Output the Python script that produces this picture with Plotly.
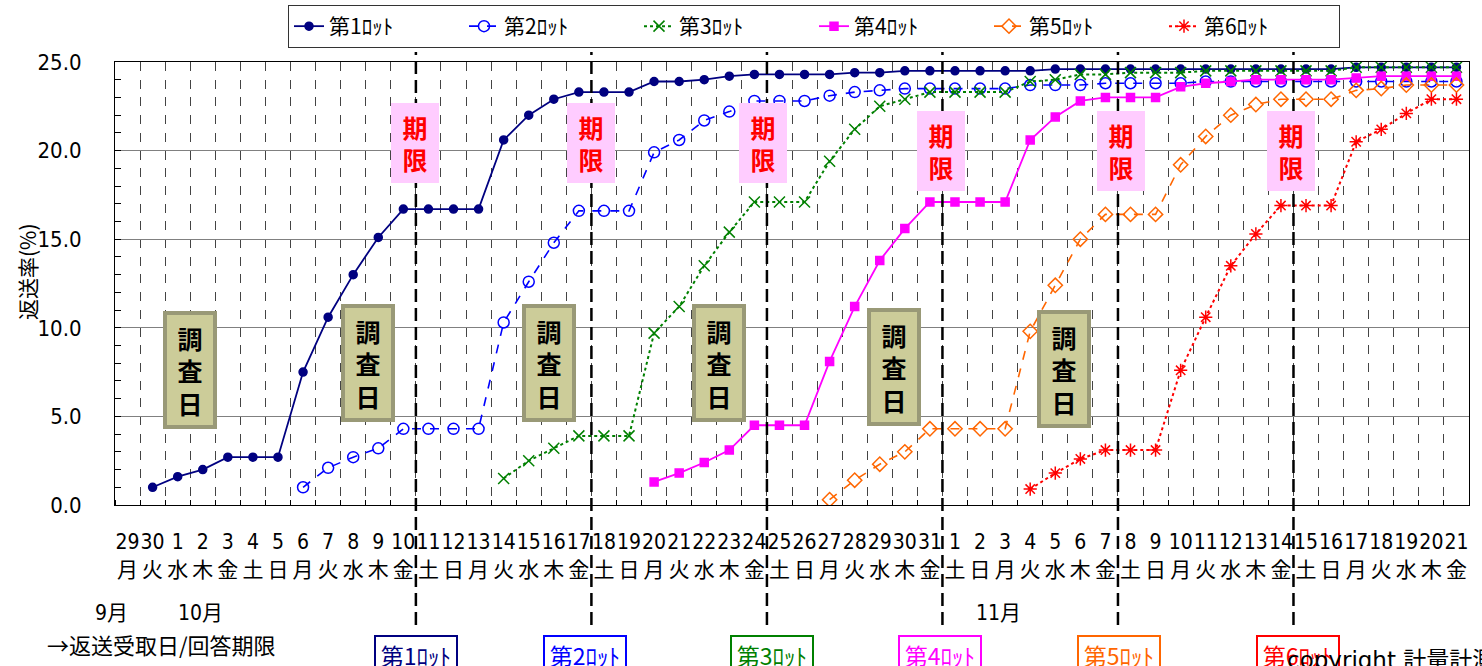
import plotly.graph_objects as go

# ---------------- data ----------------
days = ["29", "30",
        "1", "2", "3", "4", "5", "6", "7", "8", "9", "10", "11", "12", "13", "14", "15", "16",
        "17", "18", "19", "20", "21", "22", "23", "24", "25", "26", "27", "28", "29", "30", "31",
        "1", "2", "3", "4", "5", "6", "7", "8", "9", "10", "11", "12", "13", "14", "15", "16",
        "17", "18", "19", "20", "21"]
weekdays = ["月", "火",
            "水", "木", "金", "土", "日", "月", "火", "水", "木", "金", "土", "日", "月", "火", "水", "木",
            "金", "土", "日", "月", "火", "水", "木", "金", "土", "日", "月", "火", "水", "木", "金",
            "土", "日", "月", "火", "水", "木", "金", "土", "日", "月", "火", "水", "木", "金", "土", "日",
            "月", "火", "水", "木", "金"]

N = None
lot1 = [N, 1.0, 1.6, 2.0, 2.7, 2.7, 2.7, 7.5, 10.6, 13.0, 15.1, 16.7, 16.7, 16.7, 16.7, 20.6, 22.0, 22.9,
        23.3, 23.3, 23.3, 23.9, 23.9, 24.0, 24.2, 24.3, 24.3, 24.3, 24.3, 24.4, 24.4, 24.5, 24.5,
        24.5, 24.5, 24.5, 24.5, 24.6, 24.6, 24.6, 24.6, 24.6, 24.6, 24.6, 24.6, 24.6, 24.6, 24.6, 24.6,
        24.7, 24.7, 24.7, 24.7, 24.7]
lot2 = [N, N, N, N, N, N, N, 1.0, 2.1, 2.7, 3.2, 4.3, 4.3, 4.3, 4.3, 10.3, 12.6, 14.8,
        16.6, 16.6, 16.6, 19.9, 20.6, 21.7, 22.2, 22.8, 22.8, 22.8, 23.1, 23.3, 23.4, 23.5, 23.5,
        23.5, 23.5, 23.5, 23.7, 23.7, 23.7, 23.8, 23.8, 23.8, 23.8, 23.9, 23.9, 23.9, 23.9, 23.9, 23.9,
        23.9, 23.9, 23.9, 23.9, 23.9]
lot3 = [N, N, N, N, N, N, N, N, N, N, N, N, N, N, N, 1.5, 2.5, 3.2,
        3.9, 3.9, 3.9, 9.7, 11.2, 13.5, 15.4, 17.1, 17.1, 17.1, 19.4, 21.2, 22.5, 22.9, 23.3,
        23.3, 23.3, 23.3, 23.9, 24.0, 24.3, 24.3, 24.4, 24.4, 24.4, 24.5, 24.5, 24.5, 24.5, 24.5, 24.5,
        24.7, 24.7, 24.7, 24.7, 24.7]
lot4 = [N, N, N, N, N, N, N, N, N, N, N, N, N, N, N, N, N, N,
        N, N, N, 1.3, 1.8, 2.4, 3.1, 4.5, 4.5, 4.5, 8.1, 11.2, 13.8, 15.6, 17.1,
        17.1, 17.1, 17.1, 20.6, 21.9, 22.8, 23.0, 23.0, 23.0, 23.6, 23.8, 23.9, 24.0, 24.0, 24.0, 24.0,
        24.1, 24.2, 24.2, 24.2, 24.2]
lot5 = [N, N, N, N, N, N, N, N, N, N, N, N, N, N, N, N, N, N,
        N, N, N, N, N, N, N, N, N, N, 0.3, 1.4, 2.3, 3.0, 4.3,
        4.3, 4.3, 4.3, 9.8, 12.4, 15.0, 16.4, 16.4, 16.4, 19.2, 20.8, 22.0, 22.6, 22.9, 22.9, 22.9,
        23.4, 23.5, 23.7, 23.7, 23.7]
lot6 = [N, N, N, N, N, N, N, N, N, N, N, N, N, N, N, N, N, N,
        N, N, N, N, N, N, N, N, N, N, N, N, N, N, N,
        N, N, N, 0.9, 1.8, 2.6, 3.1, 3.1, 3.1, 7.6, 10.6, 13.5, 15.3, 16.9, 16.9, 16.9,
        20.5, 21.2, 22.1, 22.9, 22.9]

lot_names = ["第1ﾛｯﾄ", "第2ﾛｯﾄ", "第3ﾛｯﾄ", "第4ﾛｯﾄ", "第5ﾛｯﾄ", "第6ﾛｯﾄ"]
# index of the last day before each deadline line (line lies between this day and the next)
deadline_after = [11, 18, 25, 32, 39, 46]
y_ticks = [0, 5, 10, 15, 20, 25]
y_ticktext = ["0.0", "5.0", "10.0", "15.0", "20.0", "25.0"]
month_labels = ["9月", "10月", "11月"]

# ---------------- styles ----------------
colors = ["#000080", "#0000FF", "#008000", "#FF00FF", "#FF6600", "#FF0000"]
dashes = ["solid", "dash", "dot", "solid", "dash", "dot"]
symbols = ["circle", "circle-open", "x-thin-open", "square", "diamond-open", "asterisk-open"]
msizes = [8, 11, 11, 8, 11, 11]
lwidths = [1.8, 1.6, 2, 1.8, 1.6, 2]

NARROW = "Liberation Sans Narrow, DejaVu Sans Condensed, Noto Sans CJK JP, sans-serif"
JP = "Noto Sans CJK JP, sans-serif"

W, H = 1482, 666
L, R, T, B = 115, 13, 62, 161
PW, PH = W - L - R, H - T - B


def px_x(px):
    return (px - L) / PW


def px_y(py):
    return (H - B - py) / PH


fig = go.Figure()
series = [lot1, lot2, lot3, lot4, lot5, lot6]
xs = list(range(len(days)))
for name, vals, c, d, s, ms, lw in zip(lot_names, series, colors, dashes, symbols, msizes, lwidths):
    fig.add_trace(go.Scatter(
        x=xs, y=vals, name=name, mode="lines+markers",
        line=dict(color=c, dash=d, width=lw),
        marker=dict(symbol=s, size=ms, color=c, line=dict(color=c, width=1.5)),
        connectgaps=False,
    ))

ticktext = [f"{d}<br>{w}" for d, w in zip(days, weekdays)]

fig.update_layout(
    width=W, height=H,
    margin=dict(l=L, r=R, t=T, b=B, autoexpand=False),
    paper_bgcolor="white", plot_bgcolor="white",
    font=dict(family=NARROW, size=20, color="black"),
    showlegend=True,
    legend=dict(
        orientation="h", x=px_x(814), xanchor="center", y=px_y(5), yanchor="top",
        bordercolor="#333333", borderwidth=1, bgcolor="white",
        font=dict(family=JP, size=21, color="black"),
        entrywidth=130, entrywidthmode="pixels",
    ),
    xaxis=dict(
        range=[-0.5, len(days) - 0.5],
        tickmode="array", tickvals=xs, ticktext=ticktext, tickangle=0,
        tickfont=dict(family=NARROW, size=21, color="black"),
        ticks="", showgrid=False, zeroline=False,
        showline=True, linecolor="black", linewidth=1, mirror=True,
        ticklabelstandoff=18,
        minor=dict(tick0=0.5, dtick=1, showgrid=True, griddash="9px,8.7px",
                   gridcolor="#444444", gridwidth=1, ticks="inside", ticklen=5, tickcolor="black"),
    ),
    yaxis=dict(
        range=[0, 25], tickmode="array", tickvals=y_ticks, ticktext=y_ticktext,
        tickfont=dict(family=NARROW, size=22, color="black"),
        showgrid=True, gridcolor="#808080", gridwidth=1, zeroline=False,
        showline=True, linecolor="black", linewidth=1, mirror=True,
        ticks="inside", ticklen=6, tickcolor="black",
        ticklabelstandoff=28,
        minor=dict(dtick=1, ticks="inside", ticklen=6, tickcolor="black", showgrid=False),
    ),
)

shapes = []
for k in deadline_after:
    shapes.append(dict(type="line", xref="x", yref="paper", x0=k + 0.5, x1=k + 0.5,
                       y0=px_y(625), y1=px_y(52),
                       line=dict(color="black", width=2.5, dash="13px,6px")))
fig.update_layout(shapes=shapes)

ann = []
# y axis title
ann.append(dict(xref="paper", yref="paper", x=px_x(27), y=px_y(272), xanchor="center", yanchor="middle",
                text="返送率(%)", textangle=-90, showarrow=False, font=dict(family=JP, size=21, color="black")))
# 期限 boxes
kigen_pos = [(415, 143), (591, 143), (763, 143), (941, 151), (1121, 151), (1291, 151)]
for (px, py) in kigen_pos:
    ann.append(dict(xref="paper", yref="paper", x=px_x(px), y=px_y(py), xanchor="center", yanchor="middle",
                    text="<b>期<br>限</b>", showarrow=False, align="center",
                    font=dict(family=JP, size=25, color="#FF0000"),
                    bgcolor="#FFCCFF", width=44, height=76, borderpad=2, borderwidth=0))
# 調査日 boxes
chosa_pos = [(190, 370), (368, 363), (549, 363), (719, 363), (894, 367), (1064, 369)]
for (px, py) in chosa_pos:
    ann.append(dict(xref="paper", yref="paper", x=px_x(px), y=px_y(py), xanchor="center", yanchor="middle",
                    text="<b>調<br>査<br>日</b>", showarrow=False, align="center",
                    font=dict(family=JP, size=25, color="black"),
                    bgcolor="#CCCC99", bordercolor="#999977", borderwidth=4,
                    width=42, height=106, borderpad=2))
# month labels
for txt, px in zip(month_labels, [111, 200, 998]):
    ann.append(dict(xref="paper", yref="paper", x=px_x(px), y=px_y(613), xanchor="center", yanchor="middle",
                    text=txt, showarrow=False, font=dict(family=NARROW, size=21, color="black")))
ann.append(dict(xref="paper", yref="paper", x=px_x(45), y=px_y(644), xanchor="left", yanchor="middle",
                text="→返送受取日/回答期限", showarrow=False, font=dict(family=JP, size=22, color="black")))
# lot boxes under deadline lines
lot_box_x = [416, 585, 772, 940, 1119, 1298]
for name, c, px in zip(lot_names, colors, lot_box_x):
    ann.append(dict(xref="paper", yref="paper", x=px_x(px), y=px_y(635), xanchor="center", yanchor="top",
                    text=name, showarrow=False, font=dict(family=JP, size=23, color=c),
                    bordercolor=c, borderwidth=2, borderpad=2, width=76, height=31, bgcolor="white"))
ann.append(dict(xref="paper", yref="paper", x=px_x(1285), y=px_y(645), xanchor="left", yanchor="top",
                text="copyright 計量計測データバンク", showarrow=False,
                font=dict(family="DejaVu Sans, Noto Sans CJK JP, sans-serif", size=23, color="black")))
fig.update_layout(annotations=ann)

fig.write_html("out.html", config={"displayModeBar": False},
               post_script="document.body.style.margin='0';document.body.style.padding='0';")
